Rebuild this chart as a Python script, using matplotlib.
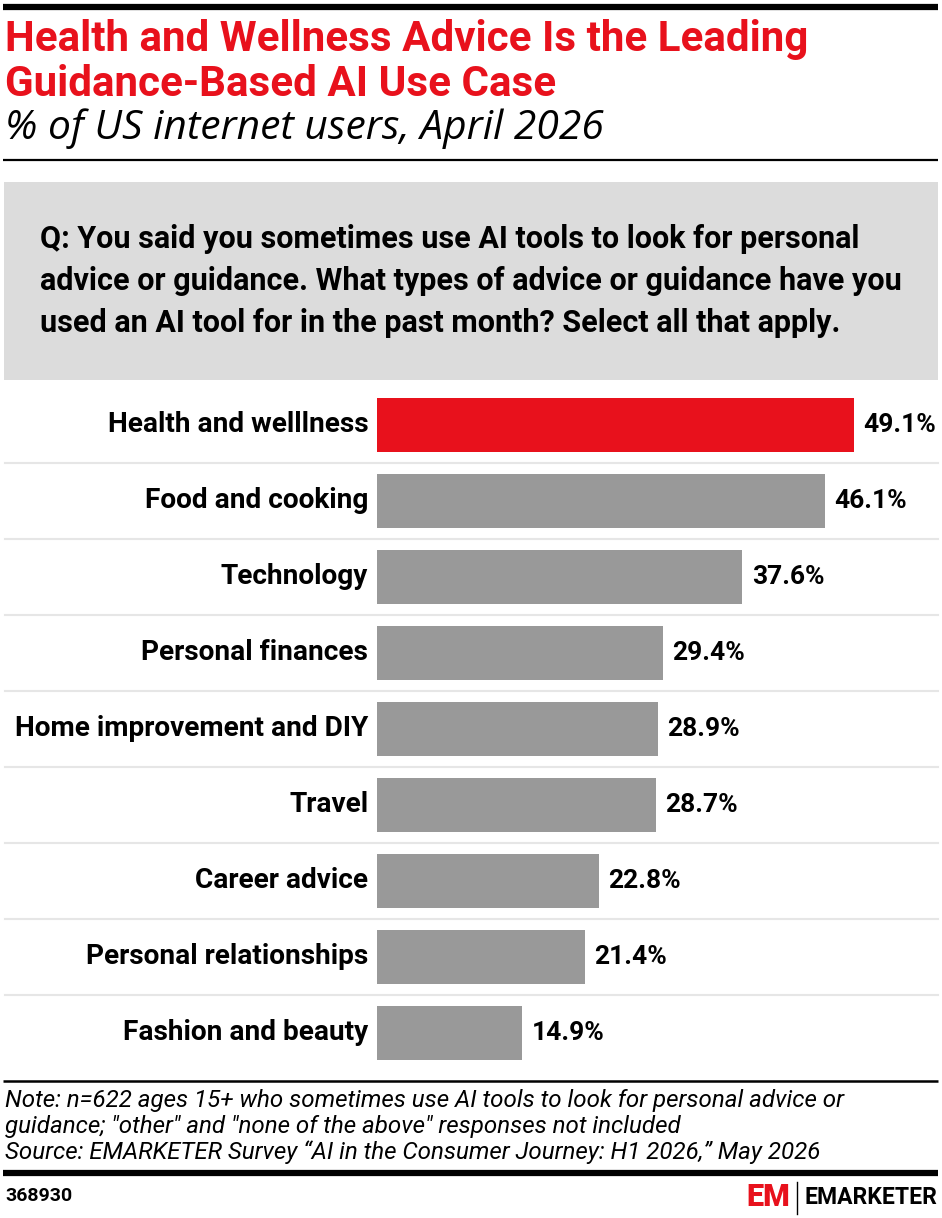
import numpy as np
import matplotlib.pyplot as plt
import matplotlib.transforms as mtransforms
from matplotlib.patches import Rectangle
from matplotlib.lines import Line2D

plt.rcParams['font.family'] = ['Roboto', 'DejaVu Sans']

categories = ["Health and welllness", "Food and cooking", "Technology",
              "Personal finances", "Home improvement and DIY", "Travel",
              "Career advice", "Personal relationships", "Fashion and beauty"]
values = [49.1, 46.1, 37.6, 29.4, 28.9, 28.7, 22.8, 21.4, 14.9]
value_labels = ["49.1%", "46.1%", "37.6%", "29.4%", "28.9%", "28.7%",
                "22.8%", "21.4%", "14.9%"]

RED = "#e8111c"
GRAY = "#999999"

W, H = 942, 1218
fig = plt.figure(figsize=(W / 100, H / 100), dpi=100)


def fy(px):
    return 1 - px / H


def fx(px):
    return px / W


def hline(y, lw, color="black", x0=3, x1=938):
    fig.add_artist(Line2D([fx(x0), fx(x1)], [fy(y), fy(y)], lw=lw, color=color,
                          solid_capstyle="butt"))


# header
hline(7, 4.5)
fig.text(fx(5), fy(40), "Health and Wellness Advice Is the Leading", color=RED,
         fontsize=30.3, fontweight="bold", va="center")
fig.text(fx(5), fy(84), "Guidance-Based AI Use Case", color=RED,
         fontsize=30.3, fontweight="bold", va="center")
fig.text(fx(5), fy(129), "% of US internet users, April 2026", color="black",
         fontsize=29.3, style="italic", va="center", family="Open Sans")
hline(160, 1.6)

# question box
fig.add_artist(Rectangle((fx(4), fy(380)), fx(934), (380 - 182) / H,
                         facecolor="#dcdcdc", edgecolor="none"))
q_lines = ["Q: You said you sometimes use AI tools to look for personal",
           "advice or guidance. What types of advice or guidance have you",
           "used an AI tool for in the past month? Select all that apply."]
for i, s in enumerate(q_lines):
    fig.text(fx(40), fy(239 + 42 * i), s, fontsize=22, fontweight="semibold",
             va="center", color="black")

# bars
top, slot = 387, 76
n = len(values)
ax = fig.add_axes([fx(377), fy(top + slot * n), fx(938 - 377), slot * n / H])
y = np.arange(n)
colors = [RED] + [GRAY] * (n - 1)
ax.barh(y, values, height=0.7, color=colors)
ax.set_ylim(n - 0.5, -0.5)
ax.set_xlim(0, 561 / 9.715)
ax.axis("off")

for i in range(n):
    ax.text(values[i] + 1.0, i, value_labels[i], va="center", ha="left",
            fontsize=19, fontweight="semibold")
    ax.text(-0.9, i, categories[i], va="center", ha="right",
            fontsize=20.2, fontweight="semibold")

tr = mtransforms.blended_transform_factory(fig.transFigure, ax.transData)
for k in range(1, n):
    ax.add_line(Line2D([fx(5), fx(938)], [k - 0.5, k - 0.5], transform=tr,
                       color="#e6e6e6", lw=1.5, clip_on=False))

# footer
hline(1081, 1.8)
notes = ["Note: n=622 ages 15+ who sometimes use AI tools to look for personal advice or",
         "guidance; \"other\" and \"none of the above\" responses not included",
         "Source: EMARKETER Survey \u201cAI in the Consumer Journey: H1 2026,\u201d May 2026"]
for i, s in enumerate(notes):
    fig.text(fx(5), fy(1100 + 26 * i), s, fontsize=17.4, style="italic",
             va="center", color="black")
hline(1173, 4.5)
fig.text(fx(5), fy(1196), "368930", fontsize=14, fontweight="bold", va="center")

fig.text(fx(790), fy(1197), "EM", fontsize=22, fontweight="black", color=RED,
         va="center", ha="right")
fig.add_artist(Line2D([fx(797), fx(797)], [fy(1182), fy(1214)], lw=1, color="black"))
fig.text(fx(805), fy(1197), "EMARKETER", fontsize=16.5, fontweight="semibold",
         va="center", ha="left")

fig.savefig("out.png", dpi=100)
